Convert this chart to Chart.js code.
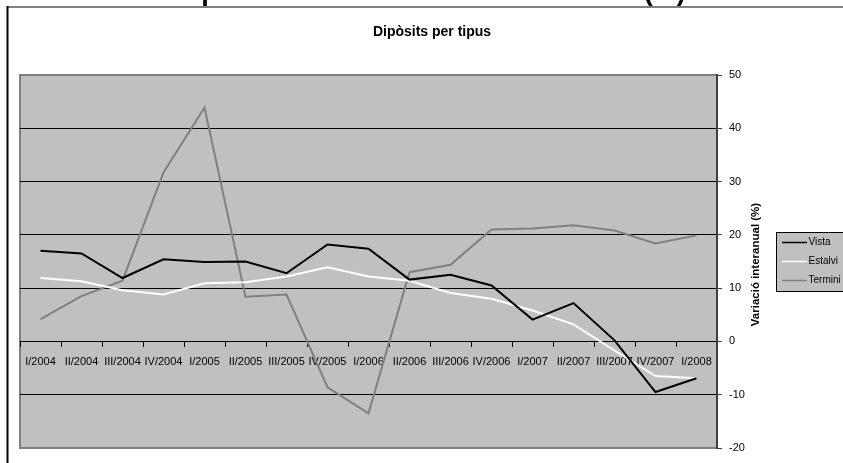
<!DOCTYPE html>
<html><head><meta charset="utf-8">
<script src="https://cdn.jsdelivr.net/npm/chart.js@4.4.1/dist/chart.umd.min.js"></script>
<style>html,body{margin:0;padding:0;background:#fff;overflow:hidden}</style>
</head><body>
<canvas id="c" width="843" height="463" style="display:block;width:843px;height:463px"></canvas>
<script>
const mainTitle = 'Dipòsits: taxa de variació interanual (%)';
const chartTitle = 'Dipòsits per tipus';
const axisTitle = 'Variació interanual (%)';
const seriesNames = ['Vista', 'Estalvi', 'Termini'];
const categories = ['I/2004','II/2004','III/2004','IV/2004','I/2005','II/2005','III/2005','IV/2005',
  'I/2006','II/2006','III/2006','IV/2006','I/2007','II/2007','III/2007','IV/2007','I/2008'];
const vista   = [17.0, 16.5, 11.9, 15.4, 14.9, 15.0, 12.8, 18.2, 17.4, 11.6, 12.5, 10.5, 4.1, 7.2, 0.2, -9.5, -6.9];
const estalvi = [11.9, 11.3, 9.6, 8.8, 10.9, 11.1, 12.2, 13.9, 12.2, 11.4, 9.1, 8.0, 5.8, 3.2, -1.7, -6.5, -6.9];
const termini = [4.2, 8.5, 11.4, 31.7, 43.9, 8.4, 8.8, -8.6, -13.5, 13.0, 14.4, 21.0, 21.2, 21.8, 20.8, 18.4, 19.9];
const yMin = -20, yMax = 50, yStep = 10;

const FONT = '"Liberation Sans", Arial, sans-serif';
const colors = ['#000000', '#ffffff', '#808080'];

const deco = {
  id: 'deco',
  beforeDraw(chart) {
    const ctx = chart.ctx, a = chart.chartArea;
    ctx.save();
    ctx.fillStyle = '#fff';
    ctx.fillRect(0, 0, chart.width, chart.height);
    // clipped main title
    ctx.fillStyle = '#000';
    ctx.font = 'bold 27px ' + FONT;
    ctx.textAlign = 'center';
    ctx.textBaseline = 'alphabetic';
    ctx.fillText(mainTitle, 430, -0.5);
    // frame
    ctx.strokeStyle = '#808080';
    ctx.lineWidth = 2;
    ctx.beginPath(); ctx.moveTo(7, 7); ctx.lineTo(chart.width, 7); ctx.stroke();
    ctx.strokeStyle = '#000';
    ctx.beginPath(); ctx.moveTo(7.5, 6); ctx.lineTo(7.5, chart.height); ctx.stroke();
    // subtitle
    ctx.font = 'bold 14px ' + FONT;
    ctx.textBaseline = 'middle';
    ctx.fillText(chartTitle, 432, 32);
    // plot area
    ctx.fillStyle = '#C0C0C0';
    ctx.fillRect(a.left, a.top, a.right - a.left, a.bottom - a.top);
    ctx.strokeStyle = '#808080';
    ctx.lineWidth = 2;
    ctx.strokeRect(a.left, a.top, a.right - a.left, a.bottom - a.top);
    ctx.restore();
  },
  afterDraw(chart) {
    const ctx = chart.ctx, a = chart.chartArea;
    ctx.save();
    // axis title
    ctx.fillStyle = '#000';
    ctx.font = 'bold 11.5px ' + FONT;
    ctx.textAlign = 'center';
    ctx.textBaseline = 'middle';
    ctx.translate(a.right + 39, (a.top + a.bottom) / 2 + 3);
    ctx.rotate(-Math.PI / 2);
    ctx.fillText(axisTitle, 0, 0);
    ctx.restore();
    // legend
    ctx.save();
    const lx = 776.5, ly = 232.5;
    ctx.fillStyle = '#C0C0C0';
    ctx.fillRect(lx, ly, 80, 59);
    ctx.strokeStyle = '#000';
    ctx.lineWidth = 1;
    ctx.strokeRect(lx, ly, 80, 59);
    ctx.font = '10px ' + FONT;
    ctx.textBaseline = 'middle';
    ctx.textAlign = 'left';
    chart.data.datasets.forEach((ds, i) => {
      const y = ly + 10 + i * 19;
      ctx.strokeStyle = ds.borderColor;
      ctx.lineWidth = 1.5;
      ctx.beginPath(); ctx.moveTo(lx + 5.5, y); ctx.lineTo(lx + 30.5, y); ctx.stroke();
      ctx.fillStyle = '#000';
      ctx.fillText(ds.label, lx + 32, y);
    });
    ctx.restore();
  }
};

new Chart(document.getElementById('c'), {
  type: 'line',
  data: {
    labels: categories,
    datasets: [
      { label: seriesNames[0], data: vista, borderColor: colors[0] },
      { label: seriesNames[1], data: estalvi, borderColor: colors[1] },
      { label: seriesNames[2], data: termini, borderColor: colors[2] }
    ].map(d => Object.assign(d, { borderWidth: 2, pointRadius: 0, tension: 0, fill: false }))
  },
  options: {
    responsive: false,
    animation: false,
    layout: { padding: { left: 20, top: 75, right: 66, bottom: 15 } },
    plugins: { legend: { display: false }, tooltip: { enabled: false }, title: { display: false } },
    scales: {
      x: {
        type: 'category',
        position: { y: 0 },
        offset: true,
        afterFit: s => { s.height = 0; },
        grid: { display: true, drawOnChartArea: false, drawTicks: true, tickLength: 5, color: '#000', offset: true },
        border: { display: true, color: '#000', width: 1 },
        ticks: { autoSkip: false, maxRotation: 0, minRotation: 0, padding: 9, color: '#000', font: { family: FONT, size: 11 } }
      },
      y: {
        position: 'right',
        min: yMin, max: yMax,
        afterFit: s => { s.width = 60; },
        grid: {
          color: c => (c.tick && (c.tick.value === yMin || c.tick.value === yMax)) ? '#808080' : '#000',
          lineWidth: 1, tickLength: 5, tickColor: '#404040'
        },
        border: { display: true, color: '#404040', width: 2 },
        ticks: { stepSize: yStep, padding: 7, color: '#000', font: { family: FONT, size: 11 } }
      }
    }
  },
  plugins: [deco]
});
</script>
</body></html>
